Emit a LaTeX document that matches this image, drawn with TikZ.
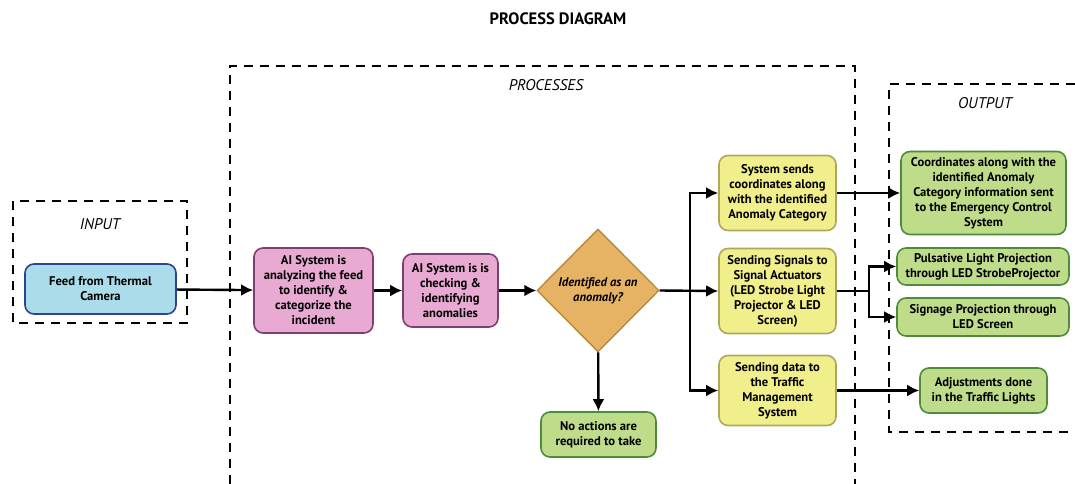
\documentclass[tikz,border=0pt]{standalone}
\usepackage{fontspec}
\setmainfont{PT Sans}
\usetikzlibrary{arrows.meta, positioning, calc, shapes.geometric}

\definecolor{inblue}{HTML}{ABDCEA}
\definecolor{inblueline}{HTML}{2E4390}
\definecolor{aipink}{HTML}{E8AAD2}
\definecolor{aipinkline}{HTML}{7E3F70}
\definecolor{decorange}{HTML}{E6B263}
\definecolor{decorangeline}{HTML}{B98A3C}
\definecolor{actyellow}{HTML}{F1EE8C}
\definecolor{actyellowline}{HTML}{ADA95C}
\definecolor{outgreen}{HTML}{BFDC8A}
\definecolor{outgreenline}{HTML}{4F8C3A}

\begin{document}
\begin{tikzpicture}[
    x=1pt, y=-1pt,
    font=\fontsize{12.6}{15}\selectfont\bfseries,
    input/.style ={rectangle, rounded corners=9pt, draw=inblueline,    line width=1.6pt, fill=inblue,    align=center, inner sep=0pt},
    aibox/.style ={rectangle, rounded corners=9pt, draw=aipinkline,    line width=1.6pt, fill=aipink,    align=center, inner sep=0pt},
    decide/.style={diamond,  draw=decorangeline, line width=1.4pt, fill=decorange, align=center, inner sep=0pt, font=\fontsize{12.6}{15}\selectfont\bfseries\itshape},
    action/.style={rectangle, rounded corners=9pt, draw=actyellowline, line width=1.6pt, fill=actyellow, align=center, inner sep=0pt, minimum width=117pt},
    outbox/.style={rectangle, rounded corners=9pt, draw=outgreenline,  line width=1.6pt, fill=outgreen,  align=center, inner sep=0pt},
    frame/.style ={dash pattern=on 9pt off 7pt, line width=1.7pt},
    label/.style ={font=\fontsize{15.5}{18}\selectfont\itshape},
    flow/.style  ={-{Latex[length=12pt,width=12pt]}, line width=2.4pt},
]
\useasboundingbox (0,0) rectangle (1075,484);

% title and dashed groups
\node[font=\fontsize{16.5}{19}\selectfont\bfseries] (title) at (558,19) {PROCESS DIAGRAM};
\draw[frame] (13,201) rectangle (187,323);
\draw[frame] (230,484) -- (230,66) -- (855,66) -- (855,484);
\draw[frame] (1075,84) -- (889,84) -- (889,432) -- (1075,432);
\node[label] (inlbl)   at (100,224) {INPUT};
\node[label] (proclbl) at (546,85)  {PROCESSES};
\node[label] (outlbl)  at (985,103) {OUTPUT};

% input and processing
\node[input, minimum width=151pt, minimum height=50pt] (feed) at (100.5,289) {Feed from Thermal\\ Camera};
\node[aibox, minimum width=119pt, minimum height=85pt] (analyze) at (313.5,290.5) {AI System is\\ analyzing the feed\\ to identify \&\\ categorize the\\ incident};
\node[aibox, minimum width=95pt, minimum height=73pt] (check) at (450.5,290.5) {AI System is is\\ checking \&\\ identifying\\ anomalies};
\node[decide, minimum width=122pt, minimum height=123pt] (anomaly) at (598,290.5) {Identified as an\\ anomaly?};
\node[outbox, minimum width=115pt, minimum height=45pt] (noact) at (598.5,434.5) {No actions are\\ required to take};

% actions
\node[action, minimum height=75pt] (sendcoord) at (777.5,193) {System sends\\ coordinates along\\ with the identified\\ Anomaly Category};
\node[action, minimum height=85pt] (signals) at (777.5,291) {Sending Signals to\\ Signal Actuators\\ (LED Strobe Light\\ Projector \& LED\\ Screen)};
\node[action, minimum height=70pt] (traffic) at (777.5,390.5) {Sending data to\\ the Traffic\\ Management\\ System};

% outputs
\node[outbox, minimum width=165pt, minimum height=83pt] (emerg) at (983.5,193) {Coordinates along with the\\ identified Anomaly\\ Category information sent\\ to the Emergency Control\\ System};
\node[outbox, minimum width=172pt, minimum height=37pt] (strobe) at (983,266.5) {Pulsative Light Projection\\ through LED StrobeProjector};
\node[outbox, minimum width=172pt, minimum height=38pt] (screen) at (983,317) {Signage Projection through\\ LED Screen};
\node[outbox, minimum width=127pt, minimum height=45pt] (lights) at (983.5,390.5) {Adjustments done\\ in the Traffic Lights};

\coordinate (branch) at (690,291);
\coordinate (fork) at (869,291);

\draw[flow] (feed) -- (analyze);
\draw[flow] (analyze) -- (check);
\draw[flow] (check) -- (anomaly);
\draw[flow] (anomaly) -- (noact);
\draw[flow] (anomaly.east) -- (signals.west);
\draw[flow] (branch) |- (sendcoord.west);
\draw[flow] (branch) |- (traffic.west);
\draw[flow] (sendcoord) -- (emerg);
\draw[line width=2.4pt] (signals.east) -- (fork);
\draw[flow] (fork) |- (strobe.west);
\draw[flow] (fork) |- (screen.west);
\draw[flow] (traffic) -- (lights);
\end{tikzpicture}
\end{document}
